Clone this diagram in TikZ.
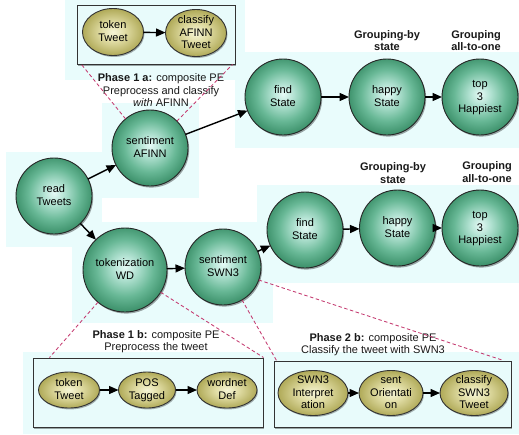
\documentclass[tikz,border=0pt]{standalone}
\usepackage{fontspec}
\setmainfont{Liberation Sans}
\usetikzlibrary{shapes.geometric,shadows,arrows.meta}
\definecolor{bgcyan}{RGB}{233,252,252}
\definecolor{boxcyan}{RGB}{232,251,251}
\definecolor{dashc}{RGB}{196,58,112}
\definecolor{gA}{RGB}{230,250,246}
\definecolor{gB}{RGB}{178,226,210}
\definecolor{gC}{RGB}{104,184,150}
\definecolor{gD}{RGB}{64,148,110}
\definecolor{oA}{RGB}{246,245,214}
\definecolor{oB}{RGB}{224,220,164}
\definecolor{oC}{RGB}{176,170,88}
\pgfdeclareradialshading{greenball}{\pgfpoint{0bp}{2bp}}{color(0bp)=(gA); color(7bp)=(gB); color(17bp)=(gC); color(25bp)=(gD); color(50bp)=(gD)}
\pgfdeclareradialshading{oliveball}{\pgfpoint{0bp}{0bp}}{color(0bp)=(oA); color(10bp)=(oB); color(25bp)=(oC); color(50bp)=(oC)}
\newcommand\dgfont{\fontsize{11}{12.5}\selectfont}
\newcommand\dgcell[1]{\makebox[0pt]{\smash{\raisebox{-3.4pt}{\begin{tabular}{@{}c@{}}#1\end{tabular}}}}}
\begin{document}
\begin{tikzpicture}[x=1pt,y=-1pt,
  proc/.style={circle, draw=black!85, line width=0.9pt, shading=greenball,
    minimum size=76pt, inner sep=0pt, outer sep=0pt, font=\dgfont,
    drop shadow={shadow xshift=1.2pt, shadow yshift=-1.6pt, opacity=0.35, fill=black}},
  sub/.style={ellipse, draw=black!80, line width=0.9pt, shading=oliveball,
    inner sep=0pt, outer sep=0pt, font=\dgfont,
    drop shadow={shadow xshift=1pt, shadow yshift=-1.4pt, opacity=0.3, fill=black}},
  pebox/.style={rectangle, draw=black!80, line width=1pt, fill=boxcyan, inner sep=0pt,
    drop shadow={shadow xshift=1.2pt, shadow yshift=-1.6pt, opacity=0.35, fill=black}},
  flow/.style={-{Triangle[length=9.5pt,width=8pt]}, line width=1.4pt, black},
  link/.style={draw=dashc, dash pattern=on 3.5pt off 2.5pt, line width=0.85pt},
  lbl/.style={inner sep=0pt, font=\dgfont, text=black!90}]
\useasboundingbox (0,0) rectangle (519,434);
% faint background patches
\fill[bgcyan] (65,0) rectangle (245,80);
\fill[bgcyan] (102,103) rectangle (199,198);
\fill[bgcyan] (235,52) rectangle (519,148);
\fill[bgcyan] (6,152) rectangle (102,247);
\fill[bgcyan] (6,222) rectangle (257,247);
\fill[bgcyan] (72,247) rectangle (273,323);
\fill[bgcyan] (257,185) rectangle (519,283);
\fill[bgcyan] (23,352) rectangle (519,434);

% composite PE boxes
\node[pebox, minimum width=158pt, minimum height=59pt] (boxA) at (156,34.5) {};
\node[pebox, minimum width=230pt, minimum height=69pt] (boxB) at (148,392.5) {};
\node[pebox, minimum width=237pt, minimum height=66pt] (boxC) at (392.5,394) {};

% inner ellipses
\node[sub, minimum width=61pt, minimum height=47pt] (aTok) at (113,32) {\dgcell{token\\Tweet}};
\node[sub, minimum width=61pt, minimum height=47pt] (aCls) at (196,33) {\dgcell{classify\\AFINN\\Tweet}};
\node[sub, minimum width=61pt, minimum height=36pt] (bTok) at (69,390) {\dgcell{token\\Tweet}};
\node[sub, minimum width=57pt, minimum height=36pt] (bPos) at (147,390) {\dgcell{POS\\Tagged}};
\node[sub, minimum width=60pt, minimum height=36pt] (bWn) at (227,390) {\dgcell{wordnet\\Def}};
\node[sub, minimum width=70pt, minimum height=45pt] (cSwn) at (313,393) {\dgcell{SWN3\\Interpret\\ation}};
\node[sub, minimum width=64pt, minimum height=45pt] (cOri) at (391,393) {\dgcell{sent\\Orientati\\on}};
\node[sub, minimum width=68pt, minimum height=45pt] (cCls) at (474,393) {\dgcell{classify\\SWN3\\Tweet}};

% main processing elements
\node[proc] (readT) at (54,196) {\dgcell{read\\Tweets}};
\node[proc] (sentA) at (150,148) {\dgcell{sentiment\\AFINN}};
\node[proc] (find1) at (283,97) {\dgcell{find\\State}};
\node[proc] (happy1) at (387,97) {\dgcell{happy\\State}};
\node[proc] (top1) at (480,97) {\dgcell{top\\3\\Happiest}};
\node[proc, minimum size=84pt] (tokWD) at (125,270) {\dgcell{tokenization\\WD}};
\node[proc] (sentS) at (223,267) {\dgcell{sentiment\\SWN3}};
\node[proc] (find2) at (305,230) {\dgcell{find\\State}};
\node[proc] (happy2) at (397.5,228) {\dgcell{happy\\State}};
\node[proc] (top2) at (480,228) {\dgcell{top\\3\\Happiest}};

% labels
\node[lbl] (labA) at (161,91) {\dgcell{\textbf{Phase 1 a:} composite PE\\Preprocess and classify\\\textit{with} AFINN}};
\node[lbl] (labB) at (156,341.5) {\dgcell{\textbf{Phase 1 b:} composite PE\\Preprocess the tweet}};
\node[lbl] (labC) at (373,344.5) {\dgcell{\textbf{Phase 2 b:} composite PE\\Classify the tweet with SWN3}};
\node[lbl] (g1) at (387,41.5) {\dgcell{\textbf{Grouping-by}\\\textbf{state}}};
\node[lbl] (g2) at (476,41.5) {\dgcell{\textbf{Grouping}\\\textbf{all-to-one}}};
\node[lbl] (g3) at (393,174) {\dgcell{\textbf{Grouping-by}\\\textbf{state}}};
\node[lbl] (g4) at (487,173) {\dgcell{\textbf{Grouping}\\\textbf{all-to-one}}};

% dashed links to composite boxes
\draw[link] (sentA.130) -- ([xshift=5pt]boxA.south west);
\draw[link] (sentA.45) -- ([xshift=-3pt]boxA.south east);
\draw[link] (tokWD.230) -- ([xshift=17pt]boxB.north west);
\draw[link] (tokWD.328) -- (boxB.north east);
\draw[link] (sentS.300) -- ([xshift=3pt]boxC.north west);
\draw[link] (sentS.340) -- ([xshift=-8pt]boxC.north east);

% flow arrows
\draw[flow] (aTok) -- (aCls);
\draw[flow] (bTok) -- (bPos);
\draw[flow] (bPos) -- (bWn);
\draw[flow] (cSwn) -- (cOri);
\draw[flow] (cOri) -- (cCls);
\draw[flow] (readT) -- (sentA);
\draw[flow] (readT) -- (tokWD);
\draw[flow] (sentA) -- (find1);
\draw[flow] (find1) -- (happy1);
\draw[flow] (happy1) -- (top1);
\draw[flow] (tokWD) -- (sentS);
\draw[flow] (sentS) -- (find2);
\draw[flow] (find2) -- (happy2);
\draw[flow] (happy2) -- (top2);
\end{tikzpicture}
\end{document}
